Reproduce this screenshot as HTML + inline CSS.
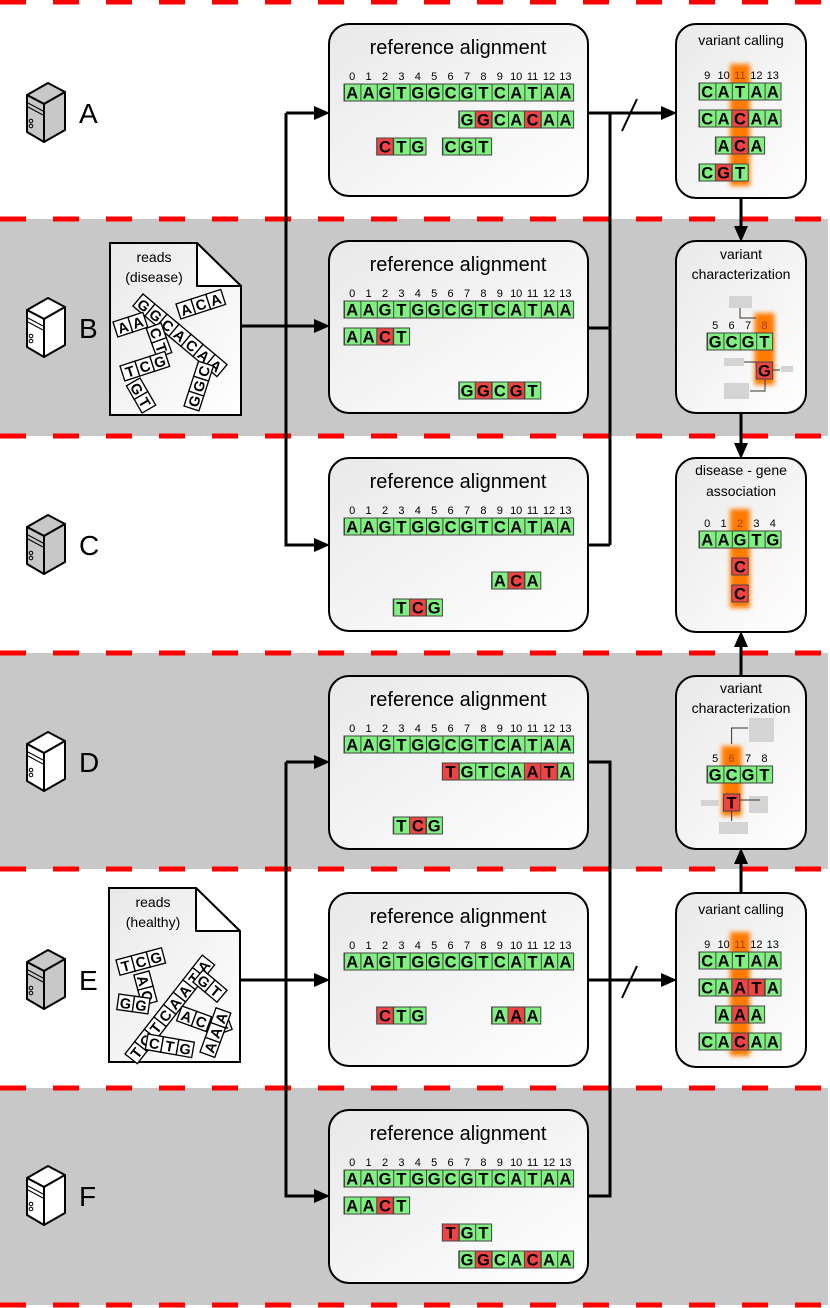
<!DOCTYPE html>
<html><head><meta charset="utf-8"><style>
html,body{margin:0;padding:0;background:#fff}
svg{display:block}
text{font-family:"Liberation Sans",sans-serif}
.c{font-weight:bold;font-size:16.5px;text-anchor:middle}
.n{font-size:11px;text-anchor:middle}
.tt{font-size:20px;text-anchor:middle}
.st{font-size:14px;text-anchor:middle}
.r{fill:#f04444;stroke:#444;stroke-width:1}
.bx{fill:url(#bg);stroke:#000;stroke-width:2}
.ln{stroke:#000;stroke-width:3;fill:none}
.ti rect{fill:#fff;stroke:#000;stroke-width:1.2}
.ti text{font-weight:bold;font-size:13px;text-anchor:middle}
.gt{fill:#d4d4d4}
</style></head><body>
<svg width="830" height="1308" viewBox="0 0 830 1308" xmlns="http://www.w3.org/2000/svg">
<defs>
<linearGradient id="bg" x1="0" y1="0" x2="1" y2="1"><stop offset="0" stop-color="#e9e9e9"/><stop offset="1" stop-color="#ffffff"/></linearGradient>
<pattern id="p1" x="344" y="0" width="16.4" height="2" patternUnits="userSpaceOnUse"><rect width="16.4" height="2" fill="#80f080"/><rect width="1" height="2" fill="#444"/></pattern>
<pattern id="p2" x="699" y="0" width="16.4" height="2" patternUnits="userSpaceOnUse"><rect width="16.4" height="2" fill="#80f080"/><rect width="1" height="2" fill="#444"/></pattern>
<pattern id="p3" x="707" y="0" width="16.4" height="2" patternUnits="userSpaceOnUse"><rect width="16.4" height="2" fill="#80f080"/><rect width="1" height="2" fill="#444"/></pattern>
<filter id="bl" x="-1" y="-0.3" width="3" height="1.6"><feGaussianBlur stdDeviation="2.5"/></filter>
<g id="srv">
<polygon points="27,95 48,83 65,92 44,104" stroke="#000" stroke-width="2" stroke-linejoin="round"/>
<polygon points="27,95 44,104 44,142 27,132" stroke="#000" stroke-width="2" stroke-linejoin="round"/>
<polygon points="44,104 65,92 65,130 44,142" stroke="#000" stroke-width="2" stroke-linejoin="round"/>
<path d="M28,103 L43,111 M28,107 L43,115" stroke="#000" stroke-width="1"/>
<circle cx="31" cy="121" r="1.8" fill="none" stroke="#000"/><circle cx="31" cy="126" r="1.8" fill="none" stroke="#000"/>
</g>
</defs>

<rect x="0" y="219" width="828" height="217" fill="#c8c8c8"/>
<rect x="0" y="653" width="828" height="216" fill="#c8c8c8"/>
<rect x="0" y="1088" width="828" height="217" fill="#c8c8c8"/>
<g stroke="#ff0000" stroke-width="5" stroke-dasharray="26 27">
<line x1="0" y1="2" x2="830" y2="2"/><line x1="0" y1="219" x2="830" y2="219"/><line x1="0" y1="436" x2="830" y2="436"/>
<line x1="0" y1="653" x2="830" y2="653"/><line x1="0" y1="869" x2="830" y2="869"/><line x1="0" y1="1088" x2="830" y2="1088"/><line x1="0" y1="1305" x2="830" y2="1305"/>
</g>

<use href="#srv" fill="#c8c8c8"/>
<use href="#srv" fill="#ffffff" transform="translate(0,215)"/>
<use href="#srv" fill="#c8c8c8" transform="translate(0,432)"/>
<use href="#srv" fill="#ffffff" transform="translate(0,649)"/>
<use href="#srv" fill="#c8c8c8" transform="translate(0,867)"/>
<use href="#srv" fill="#ffffff" transform="translate(0,1083)"/>
<g font-size="28">
<text x="79" y="123">A</text><text x="79" y="338">B</text><text x="79" y="555">C</text>
<text x="79" y="772">D</text><text x="79" y="990">E</text><text x="79" y="1206">F</text>
</g>

<path class="ln" d="M286,113 H316 M286,113 V545 H316 M240,326 H316 M588,113 H663 M588,328 H610 M588,545 H610 M610,113 V545"/>
<path class="ln" d="M286,762 H316 M286,762 V1196 H316 M240,980 H316 M588,980 H663 M588,762 H610 V1196 H588"/>
<path class="ln" d="M741,198 V228 M741,413 V445 M741,676 V645 M741,893 V862"/>
<path d="M622,131 L637,99 M622,998 L637,966" stroke="#000" stroke-width="2"/>
<g fill="#000">
<polygon points="330,113 314,106 314,120"/><polygon points="330,545 314,538 314,552"/><polygon points="330,326 314,319 314,333"/>
<polygon points="677,113 661,106 661,120"/>
<polygon points="330,762 314,755 314,769"/><polygon points="330,1196 314,1189 314,1203"/><polygon points="330,980 314,973 314,987"/>
<polygon points="677,980 661,973 661,987"/>
<polygon points="741,242 734,226 748,226"/><polygon points="741,459 734,443 748,443"/>
<polygon points="741,631 734,647 748,647"/><polygon points="741,848 734,864 748,864"/>
</g>

<path d="M110,243 H197 L241,286 V415 H110 Z" class="bx"/>
<path d="M197,243 V286 H241 Z" fill="#fff" stroke="#000" stroke-width="2" stroke-linejoin="round"/>
<text x="154" y="262" class="st">reads</text><text x="154" y="282" class="st">(disease)</text>
<g class="ti">
<g transform="translate(143,294) rotate(40) scale(1.12)"><rect x="0" y="0" width="14" height="14"/><rect x="14" y="0" width="14" height="14"/><rect x="28" y="0" width="14" height="14"/><rect x="42" y="0" width="14" height="14"/><rect x="56" y="0" width="14" height="14"/><rect x="70" y="0" width="14" height="14"/><rect x="84" y="0" width="14" height="14"/><text x="7" y="12">G</text><text x="21" y="12">G</text><text x="35" y="12">C</text><text x="49" y="12">A</text><text x="63" y="12">C</text><text x="77" y="12">A</text><text x="91" y="12">A</text></g>
<g transform="translate(176,304) rotate(-18) scale(1.12)"><rect x="0" y="0" width="14" height="14"/><rect x="14" y="0" width="14" height="14"/><rect x="28" y="0" width="14" height="14"/><text x="7" y="12">A</text><text x="21" y="12">C</text><text x="35" y="12">A</text></g>
<g transform="translate(113,322) rotate(-18) scale(1.12)"><rect x="0" y="0" width="14" height="14"/><rect x="14" y="0" width="14" height="14"/><text x="7" y="12">A</text><text x="21" y="12">A</text></g>
<g transform="translate(161,323) rotate(70) scale(1.12)"><rect x="0" y="0" width="14" height="14"/><rect x="14" y="0" width="14" height="14"/><text x="7" y="12">C</text><text x="21" y="12">T</text></g>
<g transform="translate(120,366) rotate(-18) scale(1.12)"><rect x="0" y="0" width="14" height="14"/><rect x="14" y="0" width="14" height="14"/><rect x="28" y="0" width="14" height="14"/><text x="7" y="12">T</text><text x="21" y="12">C</text><text x="35" y="12">G</text></g>
<g transform="translate(140,378) rotate(60) scale(1.12)"><rect x="0" y="0" width="14" height="14"/><rect x="14" y="0" width="14" height="14"/><text x="7" y="12">G</text><text x="21" y="12">T</text></g>
<g transform="translate(184,406) rotate(-72) scale(1.12)"><rect x="0" y="0" width="14" height="14"/><rect x="14" y="0" width="14" height="14"/><rect x="28" y="0" width="14" height="14"/><text x="7" y="12">G</text><text x="21" y="12">G</text><text x="35" y="12">C</text></g>
</g>

<path d="M109,888 H196 L240,931 V1062 H109 Z" class="bx"/>
<path d="M196,888 V931 H240 Z" fill="#fff" stroke="#000" stroke-width="2" stroke-linejoin="round"/>
<text x="153" y="907" class="st">reads</text><text x="153" y="927" class="st">(healthy)</text>
<g class="ti">
<g transform="translate(116,960) rotate(-15) scale(1.12)"><rect x="0" y="0" width="14" height="14"/><rect x="14" y="0" width="14" height="14"/><rect x="28" y="0" width="14" height="14"/><text x="7" y="12">T</text><text x="21" y="12">C</text><text x="35" y="12">G</text></g>
<g transform="translate(149,971) rotate(75) scale(1.12)"><rect x="0" y="0" width="14" height="14"/><rect x="14" y="0" width="14" height="14"/><text x="7" y="12">A</text><text x="21" y="12">C</text></g>
<g transform="translate(119,994) rotate(8) scale(1.12)"><rect x="0" y="0" width="14" height="14"/><rect x="14" y="0" width="14" height="14"/><text x="7" y="12">G</text><text x="21" y="12">G</text></g>
<g transform="translate(182,1006) rotate(20) scale(1.12)"><rect x="0" y="0" width="14" height="14"/><rect x="14" y="0" width="14" height="14"/><text x="7" y="12">A</text><text x="21" y="12">C</text></g>
<g transform="translate(125,1054) rotate(-52) scale(1.12)"><rect x="0" y="0" width="14" height="14"/><rect x="14" y="0" width="14" height="14"/><rect x="28" y="0" width="14" height="14"/><rect x="42" y="0" width="14" height="14"/><rect x="56" y="0" width="14" height="14"/><rect x="70" y="0" width="14" height="14"/><rect x="84" y="0" width="14" height="14"/><rect x="98" y="0" width="14" height="14"/><text x="7" y="12">T</text><text x="21" y="12">G</text><text x="35" y="12">T</text><text x="49" y="12">C</text><text x="63" y="12">A</text><text x="77" y="12">A</text><text x="91" y="12">T</text><text x="105" y="12">A</text></g>
<g transform="translate(203,970) rotate(40) scale(1.12)"><rect x="0" y="0" width="14" height="14"/><rect x="14" y="0" width="14" height="14"/><text x="7" y="12">G</text><text x="21" y="12">T</text></g>
<g transform="translate(212,1020) rotate(-20) scale(1.12)"><rect x="0" y="0" width="14" height="14"/><text x="7" y="12">A</text></g>
<g transform="translate(200,1052) rotate(-70) scale(1.12)"><rect x="0" y="0" width="14" height="14"/><rect x="14" y="0" width="14" height="14"/><rect x="28" y="0" width="14" height="14"/><text x="7" y="12">A</text><text x="21" y="12">A</text><text x="35" y="12">A</text></g>
<g transform="translate(148,1034) rotate(10) scale(1.12)"><rect x="0" y="0" width="14" height="14"/><rect x="14" y="0" width="14" height="14"/><rect x="28" y="0" width="14" height="14"/><text x="7" y="12">C</text><text x="21" y="12">T</text><text x="35" y="12">G</text></g>
</g>

<rect x="329" y="24" width="259" height="172" rx="20" class="bx"/>
<rect x="329" y="241" width="259" height="172" rx="20" class="bx"/>
<rect x="329" y="458" width="259" height="173" rx="20" class="bx"/>
<rect x="329" y="676" width="259" height="173" rx="20" class="bx"/>
<rect x="329" y="893" width="259" height="173" rx="20" class="bx"/>
<rect x="329" y="1110" width="259" height="173" rx="20" class="bx"/>
<g class="tt">
<text x="458" y="54">reference alignment</text><text x="458" y="271">reference alignment</text><text x="458" y="488">reference alignment</text>
<text x="458" y="706">reference alignment</text><text x="458" y="923">reference alignment</text><text x="458" y="1140">reference alignment</text>
</g>
<g class="n">
<text y="80" x="352.2">0</text><text y="80" x="368.6">1</text><text y="80" x="385">2</text><text y="80" x="401.4">3</text><text y="80" x="417.8">4</text><text y="80" x="434.2">5</text><text y="80" x="450.6">6</text><text y="80" x="467">7</text><text y="80" x="483.4">8</text><text y="80" x="499.8">9</text><text y="80" x="516.2">10</text><text y="80" x="532.6">11</text><text y="80" x="549">12</text><text y="80" x="565.4">13</text>
<text y="297" x="352.2">0</text><text y="297" x="368.6">1</text><text y="297" x="385">2</text><text y="297" x="401.4">3</text><text y="297" x="417.8">4</text><text y="297" x="434.2">5</text><text y="297" x="450.6">6</text><text y="297" x="467">7</text><text y="297" x="483.4">8</text><text y="297" x="499.8">9</text><text y="297" x="516.2">10</text><text y="297" x="532.6">11</text><text y="297" x="549">12</text><text y="297" x="565.4">13</text>
<text y="514" x="352.2">0</text><text y="514" x="368.6">1</text><text y="514" x="385">2</text><text y="514" x="401.4">3</text><text y="514" x="417.8">4</text><text y="514" x="434.2">5</text><text y="514" x="450.6">6</text><text y="514" x="467">7</text><text y="514" x="483.4">8</text><text y="514" x="499.8">9</text><text y="514" x="516.2">10</text><text y="514" x="532.6">11</text><text y="514" x="549">12</text><text y="514" x="565.4">13</text>
<text y="732" x="352.2">0</text><text y="732" x="368.6">1</text><text y="732" x="385">2</text><text y="732" x="401.4">3</text><text y="732" x="417.8">4</text><text y="732" x="434.2">5</text><text y="732" x="450.6">6</text><text y="732" x="467">7</text><text y="732" x="483.4">8</text><text y="732" x="499.8">9</text><text y="732" x="516.2">10</text><text y="732" x="532.6">11</text><text y="732" x="549">12</text><text y="732" x="565.4">13</text>
<text y="949" x="352.2">0</text><text y="949" x="368.6">1</text><text y="949" x="385">2</text><text y="949" x="401.4">3</text><text y="949" x="417.8">4</text><text y="949" x="434.2">5</text><text y="949" x="450.6">6</text><text y="949" x="467">7</text><text y="949" x="483.4">8</text><text y="949" x="499.8">9</text><text y="949" x="516.2">10</text><text y="949" x="532.6">11</text><text y="949" x="549">12</text><text y="949" x="565.4">13</text>
<text y="1166" x="352.2">0</text><text y="1166" x="368.6">1</text><text y="1166" x="385">2</text><text y="1166" x="401.4">3</text><text y="1166" x="417.8">4</text><text y="1166" x="434.2">5</text><text y="1166" x="450.6">6</text><text y="1166" x="467">7</text><text y="1166" x="483.4">8</text><text y="1166" x="499.8">9</text><text y="1166" x="516.2">10</text><text y="1166" x="532.6">11</text><text y="1166" x="549">12</text><text y="1166" x="565.4">13</text>
</g>

<g fill="url(#p1)" stroke="#444" stroke-width="1">
<rect x="344" y="84" width="229.6" height="17"/><rect x="344" y="301" width="229.6" height="17"/><rect x="344" y="518" width="229.6" height="17"/>
<rect x="344" y="736" width="229.6" height="17"/><rect x="344" y="953" width="229.6" height="17"/><rect x="344" y="1170" width="229.6" height="17"/>
<rect x="458.8" y="111" width="114.8" height="17"/><rect x="376.8" y="138" width="49.2" height="17"/><rect x="442.4" y="138" width="49.2" height="17"/>
<rect x="344" y="328" width="65.6" height="17"/><rect x="458.8" y="382" width="82" height="17"/>
<rect x="491.6" y="572" width="49.2" height="17"/><rect x="393.2" y="599" width="49.2" height="17"/>
<rect x="442.4" y="763" width="131.2" height="17"/><rect x="393.2" y="817" width="49.2" height="17"/>
<rect x="376.8" y="1007" width="49.2" height="17"/><rect x="491.6" y="1007" width="49.2" height="17"/>
<rect x="344" y="1197" width="65.6" height="17"/><rect x="442.4" y="1224" width="49.2" height="17"/><rect x="458.8" y="1251" width="114.8" height="17"/>
</g>
<g>
<rect class="r" x="475.2" y="111" width="16.4" height="17"/><rect class="r" x="524.4" y="111" width="16.4" height="17"/><rect class="r" x="376.8" y="138" width="16.4" height="17"/>
<rect class="r" x="376.8" y="328" width="16.4" height="17"/><rect class="r" x="475.2" y="382" width="16.4" height="17"/><rect class="r" x="508" y="382" width="16.4" height="17"/>
<rect class="r" x="508" y="572" width="16.4" height="17"/><rect class="r" x="409.6" y="599" width="16.4" height="17"/>
<rect class="r" x="442.4" y="763" width="16.4" height="17"/><rect class="r" x="524.4" y="763" width="16.4" height="17"/><rect class="r" x="540.8" y="763" width="16.4" height="17"/><rect class="r" x="409.6" y="817" width="16.4" height="17"/>
<rect class="r" x="376.8" y="1007" width="16.4" height="17"/><rect class="r" x="508" y="1007" width="16.4" height="17"/>
<rect class="r" x="376.8" y="1197" width="16.4" height="17"/><rect class="r" x="442.4" y="1224" width="16.4" height="17"/><rect class="r" x="475.2" y="1251" width="16.4" height="17"/><rect class="r" x="524.4" y="1251" width="16.4" height="17"/>
</g>
<g class="c">
<text y="98.5" x="352.2 368.6 385 401.4 417.8 434.2 450.6 467 483.4 499.8 516.2 532.6 549 565.4">AAGTGGCGTCATAA</text>
<text y="125.5" x="467 483.4 499.8 516.2 532.6 549 565.4">GGCACAA</text>
<text y="152.5" x="385 401.4 417.8">CTG</text><text y="152.5" x="450.6 467 483.4">CGT</text>
<text y="315.5" x="352.2 368.6 385 401.4 417.8 434.2 450.6 467 483.4 499.8 516.2 532.6 549 565.4">AAGTGGCGTCATAA</text>
<text y="342.5" x="352.2 368.6 385 401.4">AACT</text>
<text y="396.5" x="467 483.4 499.8 516.2 532.6">GGCGT</text>
<text y="532.5" x="352.2 368.6 385 401.4 417.8 434.2 450.6 467 483.4 499.8 516.2 532.6 549 565.4">AAGTGGCGTCATAA</text>
<text y="586.5" x="499.8 516.2 532.6">ACA</text><text y="613.5" x="401.4 417.8 434.2">TCG</text>
<text y="750.5" x="352.2 368.6 385 401.4 417.8 434.2 450.6 467 483.4 499.8 516.2 532.6 549 565.4">AAGTGGCGTCATAA</text>
<text y="777.5" x="450.6 467 483.4 499.8 516.2 532.6 549 565.4">TGTCAATA</text>
<text y="831.5" x="401.4 417.8 434.2">TCG</text>
<text y="967.5" x="352.2 368.6 385 401.4 417.8 434.2 450.6 467 483.4 499.8 516.2 532.6 549 565.4">AAGTGGCGTCATAA</text>
<text y="1021.5" x="385 401.4 417.8">CTG</text><text y="1021.5" x="499.8 516.2 532.6">AAA</text>
<text y="1184.5" x="352.2 368.6 385 401.4 417.8 434.2 450.6 467 483.4 499.8 516.2 532.6 549 565.4">AAGTGGCGTCATAA</text>
<text y="1211.5" x="352.2 368.6 385 401.4">AACT</text>
<text y="1238.5" x="450.6 467 483.4">TGT</text>
<text y="1265.5" x="467 483.4 499.8 516.2 532.6 549 565.4">GGCACAA</text>
</g>

<rect x="676" y="24" width="130" height="174" rx="20" class="bx"/>
<rect x="676" y="241" width="130" height="172" rx="20" class="bx"/>
<rect x="676" y="458" width="130" height="174" rx="20" class="bx"/>
<rect x="676" y="676" width="130" height="173" rx="20" class="bx"/>
<rect x="676" y="893" width="130" height="174" rx="20" class="bx"/>
<g class="st">
<text x="741" y="45">variant calling</text>
<text x="741" y="259">variant</text><text x="741" y="279">characterization</text>
<text x="741" y="475">disease - gene</text><text x="741" y="496">association</text>
<text x="741" y="693">variant</text><text x="741" y="713">characterization</text>
<text x="741" y="914">variant calling</text>
</g>

<g fill="#ff7a00" filter="url(#bl)">
<rect x="730" y="64" width="20" height="122"/>
<rect x="754.5" y="313" width="20" height="72"/>
<rect x="730" y="509" width="20" height="99"/>
<rect x="721.5" y="746" width="20" height="70"/>
<rect x="730" y="932" width="20" height="124"/>
</g>

<g class="gt">
<rect x="729" y="296" width="23" height="12"/><rect x="724" y="358" width="20" height="8"/><rect x="781" y="366" width="12" height="6"/><rect x="724" y="383" width="25" height="16"/>
<rect x="749" y="718" width="25" height="24"/><rect x="749" y="796" width="19" height="17"/><rect x="701" y="800" width="18" height="6"/><rect x="719" y="822" width="29" height="12"/>
</g>
<path d="M740,308 V318 H756 M744,362 H756 M773,370 H780 M765,379 V391 H750 M731.6,744 V728 H748 M739.8,800 H760 M731.6,811 V821" stroke="#333" stroke-width="1" fill="none"/>

<g class="n">
<text y="79" x="707.2">9</text><text y="79" x="723.6">10</text><text y="79" x="740" fill="#a04000">11</text><text y="79" x="756.4">12</text><text y="79" x="772.8">13</text>
<text y="329" x="715.2">5</text><text y="329" x="731.6">6</text><text y="329" x="748">7</text><text y="329" x="764.4" fill="#a04000">8</text>
<text y="527" x="707.2">0</text><text y="527" x="723.6">1</text><text y="527" x="740" fill="#a04000">2</text><text y="527" x="756.4">3</text><text y="527" x="772.8">4</text>
<text y="762" x="715.2">5</text><text y="762" x="731.6" fill="#a04000">6</text><text y="762" x="748">7</text><text y="762" x="764.4">8</text>
<text y="948" x="707.2">9</text><text y="948" x="723.6">10</text><text y="948" x="740" fill="#a04000">11</text><text y="948" x="756.4">12</text><text y="948" x="772.8">13</text>
</g>
<g stroke="#444" stroke-width="1">
<rect fill="url(#p2)" x="699" y="83" width="82" height="17"/><rect fill="url(#p2)" x="699" y="110" width="82" height="17"/><rect fill="url(#p2)" x="715.4" y="137" width="49.2" height="17"/><rect fill="url(#p2)" x="699" y="164" width="49.2" height="17"/>
<rect fill="url(#p3)" x="707" y="333" width="65.6" height="17"/>
<rect fill="url(#p2)" x="699" y="531" width="82" height="17"/>
<rect fill="url(#p3)" x="707" y="766" width="65.6" height="17"/>
<rect fill="url(#p2)" x="699" y="952" width="82" height="17"/><rect fill="url(#p2)" x="699" y="979" width="82" height="17"/><rect fill="url(#p2)" x="715.4" y="1006" width="49.2" height="17"/><rect fill="url(#p2)" x="699" y="1033" width="82" height="17"/>
</g>
<g>
<rect class="r" x="731.8" y="110" width="16.4" height="17"/><rect class="r" x="731.8" y="137" width="16.4" height="17"/><rect class="r" x="715.4" y="164" width="16.4" height="17"/>
<rect class="r" x="756.2" y="362" width="16.4" height="17"/>
<rect class="r" x="731.8" y="558" width="16.4" height="17"/><rect class="r" x="731.8" y="585" width="16.4" height="17"/>
<rect class="r" x="723.4" y="794" width="16.4" height="17"/>
<rect class="r" x="731.8" y="979" width="16.4" height="17"/><rect class="r" x="748.2" y="979" width="16.4" height="17"/><rect class="r" x="731.8" y="1006" width="16.4" height="17"/><rect class="r" x="731.8" y="1033" width="16.4" height="17"/>
</g>
<g class="c">
<text y="97.5" x="707.2 723.6 740 756.4 772.8">CATAA</text>
<text y="124.5" x="707.2 723.6 740 756.4 772.8">CACAA</text>
<text y="151.5" x="723.6 740 756.4">ACA</text>
<text y="178.5" x="707.2 723.6 740">CGT</text>
<text y="347.5" x="715.2 731.6 748 764.4">GCGT</text>
<text y="376.5" x="764.4">G</text>
<text y="545.5" x="707.2 723.6 740 756.4 772.8">AAGTG</text>
<text y="572.5" x="740">C</text><text y="599.5" x="740">C</text>
<text y="780.5" x="715.2 731.6 748 764.4">GCGT</text>
<text y="808.5" x="731.6">T</text>
<text y="966.5" x="707.2 723.6 740 756.4 772.8">CATAA</text>
<text y="993.5" x="707.2 723.6 740 756.4 772.8">CAATA</text>
<text y="1020.5" x="723.6 740 756.4">AAA</text>
<text y="1047.5" x="707.2 723.6 740 756.4 772.8">CACAA</text>
</g>
</svg>
</body></html>
